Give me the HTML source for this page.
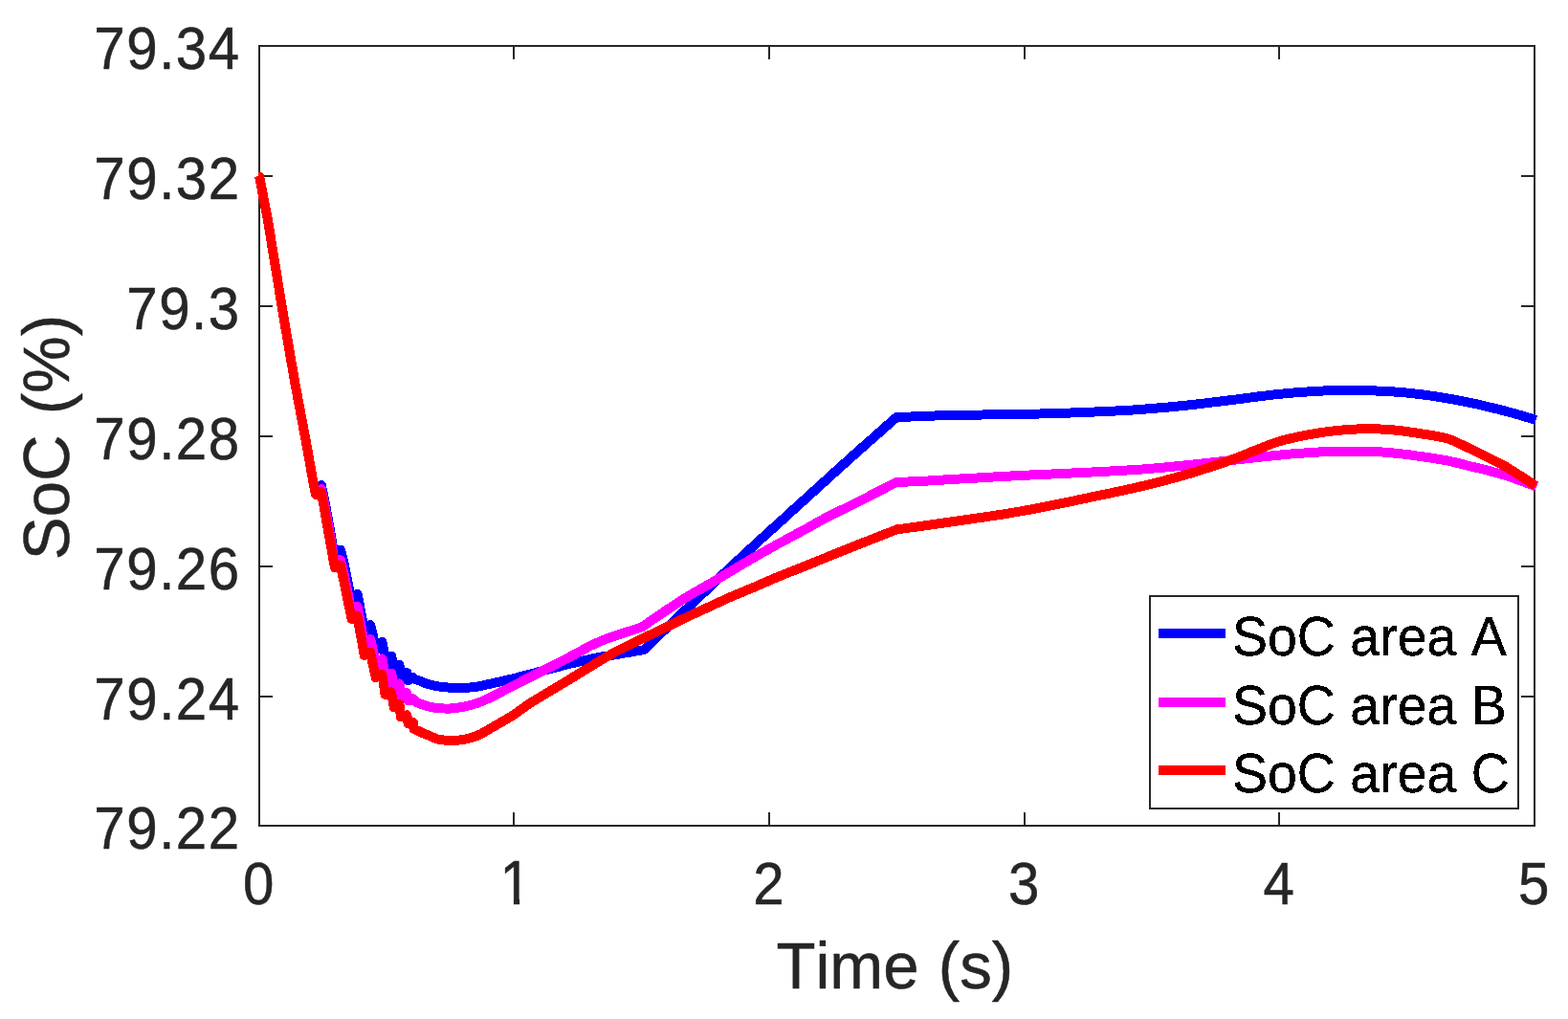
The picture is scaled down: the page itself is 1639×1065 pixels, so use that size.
<!DOCTYPE html>
<html lang="en"><head><meta charset="utf-8"><title>SoC (%) vs Time (s)</title>
<style>html,body{margin:0;padding:0;background:#fff}body{width:1639px;height:1065px;overflow:hidden}svg{display:block}text{font-family:"Liberation Sans",sans-serif;font-kerning:none;font-variant-ligatures:none}</style></head><body>
<svg width="1639" height="1065" viewBox="0 0 1639 1065">
<rect x="0" y="0" width="1639" height="1065" fill="#fff"/>
<g stroke="#262626" stroke-width="2" fill="none" shape-rendering="crispEdges">
<rect x="271" y="48" width="1333" height="815"/>
<line x1="537" y1="863" x2="537" y2="849"/>
<line x1="537" y1="48" x2="537" y2="62"/>
<line x1="804" y1="863" x2="804" y2="849"/>
<line x1="804" y1="48" x2="804" y2="62"/>
<line x1="1071" y1="863" x2="1071" y2="849"/>
<line x1="1071" y1="48" x2="1071" y2="62"/>
<line x1="1337" y1="863" x2="1337" y2="849"/>
<line x1="1337" y1="48" x2="1337" y2="62"/>
<line x1="271" y1="728" x2="285" y2="728"/>
<line x1="1604" y1="728" x2="1590" y2="728"/>
<line x1="271" y1="592" x2="285" y2="592"/>
<line x1="1604" y1="592" x2="1590" y2="592"/>
<line x1="271" y1="456" x2="285" y2="456"/>
<line x1="1604" y1="456" x2="1590" y2="456"/>
<line x1="271" y1="320" x2="285" y2="320"/>
<line x1="1604" y1="320" x2="1590" y2="320"/>
<line x1="271" y1="184" x2="285" y2="184"/>
<line x1="1604" y1="184" x2="1590" y2="184"/>
</g>
<g fill="#262626" stroke="#262626" stroke-width="0.5" stroke-linejoin="round" font-size="61px">
<text transform="translate(270.3 945) scale(0.955 1.04)" text-anchor="middle">0</text>
<clipPath id="c1"><rect x="500" y="880" width="80" height="58.4"/><rect x="536.9" y="880" width="6.2" height="80"/></clipPath>
<g clip-path="url(#c1)"><text transform="translate(538.8 945) scale(0.955 1.075)" text-anchor="middle">1</text></g>
<text transform="translate(803.5 945) scale(0.955 1.04)" text-anchor="middle">2</text>
<text transform="translate(1070.1 945) scale(0.955 1.04)" text-anchor="middle">3</text>
<text transform="translate(1336.7 945) scale(0.955 1.04)" text-anchor="middle">4</text>
<text transform="translate(1603.3 945) scale(0.955 1.04)" text-anchor="middle">5</text>
<text transform="translate(251.7 887.3) scale(0.955 1.04)" text-anchor="end" letter-spacing="1.6">79.22</text>
<text transform="translate(251.7 751.5) scale(0.955 1.04)" text-anchor="end" letter-spacing="1.6">79.24</text>
<text transform="translate(251.7 615.6) scale(0.955 1.04)" text-anchor="end" letter-spacing="1.6">79.26</text>
<text transform="translate(251.7 479.8) scale(0.955 1.04)" text-anchor="end" letter-spacing="1.6">79.28</text>
<text transform="translate(251.7 344.0) scale(0.955 1.04)" text-anchor="end" letter-spacing="1.6">79.3</text>
<text transform="translate(251.7 208.1) scale(0.955 1.04)" text-anchor="end" letter-spacing="1.6">79.32</text>
<text transform="translate(251.7 72.3) scale(0.955 1.04)" text-anchor="end" letter-spacing="1.6">79.34</text>
</g>
<g fill="#262626" stroke="#262626" stroke-width="0.5" stroke-linejoin="round" font-size="67.2px">
<text transform="translate(935.3 1033) scale(1 1.015)" text-anchor="middle" word-spacing="1.5">Time (s)</text>
<text transform="translate(72.3 457) rotate(-90) scale(1 1.03022)" text-anchor="middle" word-spacing="2.5">SoC (%)</text>
</g>
<g fill="none" stroke-width="10" stroke-linejoin="round" stroke-linecap="butt" shape-rendering="crispEdges">
<polyline stroke="#0000ff" points="271.0,184.0 280.0,230.0 286.4,270.0 297.1,335.0 308.3,400.0 320.5,465.0 326.7,500.0 330.0,515.2 335.8,507.0 338.2,517.4 340.5,529.6 342.9,542.5 345.3,556.1 347.6,570.0 350.0,584.2 356.0,574.7 357.9,582.0 359.9,590.6 361.8,599.8 363.7,609.3 365.7,619.2 367.6,629.2 373.5,621.0 374.7,626.3 375.9,632.6 377.1,639.2 378.4,646.2 379.6,653.3 380.8,660.6 387.0,653.0 388.0,656.4 388.9,660.4 389.9,664.7 390.9,669.1 391.8,673.6 392.8,678.3 399.5,671.0 400.0,673.7 400.5,676.8 401.1,680.2 401.6,683.7 402.1,687.3 402.6,690.9 409.0,685.5 409.5,687.5 409.9,689.9 410.4,692.5 410.9,695.1 411.3,697.8 411.8,700.6 417.5,695.0 417.8,696.7 418.0,698.6 418.2,700.7 418.5,702.9 418.8,705.2 419.0,707.5 425.3,703.1 425.5,704.2 425.7,705.5 425.9,706.8 426.1,708.2 426.3,709.7 426.5,711.1 432.0,708.2 434.0,710.0 439.0,711.7 444.0,713.9 448.9,715.4 453.9,716.6 458.9,717.5 463.9,718.2 468.9,718.6 473.8,718.8 478.8,718.8 483.8,718.8 488.8,718.7 493.8,718.3 498.7,717.6 503.7,716.6 508.7,715.5 513.7,714.4 518.6,713.3 523.6,712.2 528.6,711.0 533.6,709.9 538.6,708.7 543.5,707.4 548.5,706.1 553.5,704.8 558.5,703.5 563.5,702.1 568.4,700.8 573.4,699.5 578.4,698.2 583.4,696.9 588.4,695.6 593.3,694.4 598.3,693.1 603.3,692.0 608.3,690.8 613.2,689.7 618.2,688.6 623.2,687.5 628.2,686.6 633.2,685.8 638.1,685.1 643.1,684.3 648.1,683.4 653.1,682.5 658.1,681.7 663.0,680.8 668.0,680.0 673.0,679.2 678.0,674.4 683.0,669.6 688.0,664.8 692.9,660.0 697.9,655.3 702.9,650.5 707.9,645.7 712.9,641.0 717.9,636.2 722.8,631.5 727.8,626.7 732.8,622.0 737.8,617.3 742.8,612.6 747.8,607.8 752.8,603.1 757.7,598.4 762.7,593.7 767.7,589.1 772.7,584.4 777.7,579.8 782.7,575.2 787.7,570.6 792.6,566.0 797.6,561.5 802.6,557.0 807.6,552.4 812.6,547.9 817.6,543.4 822.5,538.9 827.5,534.4 832.5,529.8 837.5,525.3 842.5,520.8 847.5,516.2 852.5,511.7 857.4,507.2 862.4,502.7 867.4,498.1 872.4,493.6 877.4,489.1 882.4,484.6 887.4,480.2 892.3,475.7 897.3,471.3 902.3,466.8 907.3,462.4 912.3,458.0 917.3,453.6 922.2,449.2 927.2,444.8 932.2,440.4 937.2,436.0 942.2,435.8 947.2,435.7 952.2,435.5 957.1,435.3 962.1,435.1 967.1,434.9 972.1,434.7 977.1,434.5 982.1,434.2 987.1,434.1 992.1,434.0 997.0,433.9 1002.0,433.8 1007.0,433.7 1012.0,433.7 1017.0,433.6 1022.0,433.6 1027.0,433.5 1032.0,433.4 1036.9,433.4 1041.9,433.3 1046.9,433.2 1051.9,433.1 1056.9,433.1 1061.9,433.0 1066.9,432.9 1071.9,432.8 1076.8,432.7 1081.8,432.6 1086.8,432.5 1091.8,432.4 1096.8,432.3 1101.8,432.1 1106.8,431.9 1111.8,431.8 1116.7,431.6 1121.7,431.4 1126.7,431.3 1131.7,431.1 1136.7,430.9 1141.7,430.6 1146.7,430.4 1151.7,430.2 1156.6,430.0 1161.6,429.7 1166.6,429.5 1171.6,429.2 1176.6,428.9 1181.6,428.7 1186.6,428.3 1191.6,428.0 1196.5,427.6 1201.5,427.2 1206.5,426.8 1211.5,426.3 1216.5,425.9 1221.5,425.5 1226.5,425.0 1231.5,424.5 1236.4,424.0 1241.4,423.5 1246.4,423.0 1251.4,422.4 1256.4,421.8 1261.4,421.2 1266.4,420.6 1271.3,420.0 1276.3,419.4 1281.3,418.8 1286.3,418.2 1291.3,417.6 1296.3,416.9 1301.3,416.3 1306.3,415.6 1311.2,415.0 1316.2,414.3 1321.2,413.7 1326.2,413.1 1331.2,412.5 1336.2,412.0 1341.2,411.5 1346.2,411.1 1351.1,410.6 1356.1,410.2 1361.1,409.9 1366.1,409.5 1371.1,409.2 1376.1,408.9 1381.1,408.6 1386.1,408.4 1391.0,408.3 1396.0,408.1 1401.0,408.0 1406.0,408.0 1411.0,407.9 1416.0,407.9 1421.0,408.0 1426.0,408.1 1430.9,408.2 1435.9,408.4 1440.9,408.6 1445.9,408.8 1450.9,409.1 1455.9,409.4 1460.9,409.7 1465.9,410.1 1470.8,410.6 1475.8,411.1 1480.8,411.7 1485.8,412.3 1490.8,413.0 1495.8,413.6 1500.8,414.4 1505.8,415.2 1510.7,416.1 1515.7,416.9 1520.7,417.8 1525.7,418.8 1530.7,419.7 1535.7,420.7 1540.7,421.8 1545.7,422.8 1550.6,424.0 1555.6,425.2 1560.6,426.4 1565.6,427.6 1570.6,428.9 1575.6,430.2 1580.6,431.6 1585.6,433.0 1590.5,434.4 1595.5,435.9 1600.5,437.4 1605.5,439.0"/>
<polyline stroke="#ff00ff" points="271.0,184.0 280.0,230.0 286.4,270.0 297.1,335.0 308.3,400.0 320.5,465.0 326.7,500.0 330.0,516.2 335.8,511.0 338.2,521.6 340.5,534.0 342.9,547.3 345.3,561.1 347.6,575.3 350.0,589.9 356.0,585.2 357.9,592.6 359.9,601.3 361.8,610.6 363.7,620.2 365.7,630.2 367.6,640.4 373.5,634.0 374.7,639.4 375.9,645.7 377.1,652.5 378.4,659.5 379.6,666.7 380.8,674.1 387.0,668.0 388.0,671.5 388.9,675.6 389.9,679.9 390.9,684.5 391.8,689.2 392.8,694.0 399.5,688.5 400.0,691.2 400.5,694.4 401.1,697.7 401.6,701.2 402.1,704.9 402.6,708.6 409.0,703.5 409.5,705.6 409.9,708.0 410.4,710.6 410.9,713.3 411.3,716.1 411.8,719.0 417.5,714.5 417.8,716.2 418.0,718.3 418.2,720.4 418.5,722.7 418.8,725.0 419.0,727.4 425.3,724.1 425.5,725.2 425.7,726.5 425.9,727.9 426.1,729.4 426.3,730.9 426.5,732.4 432.0,730.3 434.0,733.2 439.0,735.6 444.1,737.3 449.1,738.6 454.2,739.6 459.2,740.3 464.3,740.5 469.3,740.6 474.3,740.2 479.4,739.6 484.4,738.7 489.5,737.5 494.5,736.2 499.6,734.6 504.6,732.7 509.6,730.4 514.7,727.9 519.7,725.4 524.8,722.8 529.8,720.2 534.9,717.6 539.9,715.0 544.9,712.4 550.0,709.8 555.0,707.3 560.1,704.7 565.1,702.2 570.1,699.6 575.2,697.1 580.2,694.6 585.3,692.0 590.3,689.4 595.4,686.7 600.4,684.0 605.4,681.3 610.5,678.5 615.5,675.9 620.6,673.4 625.6,671.1 630.7,669.0 635.7,667.0 640.7,665.2 645.8,663.6 650.8,662.0 655.9,660.3 660.9,658.7 666.0,657.0 671.0,655.4 676.0,651.9 681.0,648.4 686.0,645.0 691.1,641.5 696.1,638.1 701.1,634.8 706.1,631.5 711.1,628.3 716.1,625.1 721.1,622.0 726.1,619.0 731.2,616.2 736.2,613.4 741.2,610.5 746.2,607.6 751.2,604.6 756.2,601.6 761.2,598.6 766.3,595.6 771.3,592.6 776.3,589.6 781.3,586.7 786.3,583.8 791.3,580.9 796.3,578.0 801.3,575.2 806.4,572.4 811.4,569.5 816.4,566.8 821.4,564.1 826.4,561.4 831.4,558.7 836.4,556.0 841.4,553.3 846.5,550.5 851.5,547.6 856.5,544.8 861.5,542.1 866.5,539.5 871.5,537.0 876.5,534.5 881.6,532.1 886.6,529.7 891.6,527.2 896.6,524.7 901.6,522.2 906.6,519.6 911.6,517.0 916.6,514.5 921.7,511.9 926.7,509.3 931.7,506.6 936.7,504.0 941.7,503.8 946.7,503.6 951.7,503.4 956.7,503.2 961.7,502.9 966.7,502.7 971.7,502.4 976.7,502.1 981.7,501.8 986.6,501.5 991.6,501.2 996.6,500.9 1001.6,500.6 1006.6,500.3 1011.6,500.1 1016.6,499.8 1021.6,499.5 1026.6,499.2 1031.6,498.9 1036.6,498.6 1041.6,498.3 1046.6,498.0 1051.6,497.8 1056.6,497.5 1061.6,497.3 1066.6,497.0 1071.6,496.8 1076.6,496.5 1081.5,496.3 1086.5,496.1 1091.5,495.8 1096.5,495.6 1101.5,495.4 1106.5,495.1 1111.5,494.9 1116.5,494.7 1121.5,494.4 1126.5,494.2 1131.5,493.9 1136.5,493.7 1141.5,493.5 1146.5,493.2 1151.5,493.0 1156.5,492.7 1161.5,492.4 1166.5,492.2 1171.5,491.9 1176.4,491.6 1181.4,491.3 1186.4,491.0 1191.4,490.7 1196.4,490.3 1201.4,489.9 1206.4,489.5 1211.4,489.1 1216.4,488.6 1221.4,488.1 1226.4,487.6 1231.4,487.1 1236.4,486.6 1241.4,486.1 1246.4,485.6 1251.4,485.1 1256.4,484.5 1261.4,484.0 1266.4,483.4 1271.3,482.8 1276.3,482.3 1281.3,481.7 1286.3,481.2 1291.3,480.6 1296.3,480.0 1301.3,479.5 1306.3,478.9 1311.3,478.3 1316.3,477.8 1321.3,477.2 1326.3,476.7 1331.3,476.2 1336.3,475.7 1341.3,475.2 1346.3,474.8 1351.3,474.3 1356.3,473.9 1361.3,473.6 1366.3,473.3 1371.2,472.9 1376.2,472.6 1381.2,472.4 1386.2,472.2 1391.2,472.1 1396.2,472.0 1401.2,471.9 1406.2,471.8 1411.2,471.8 1416.2,471.8 1421.2,471.8 1426.2,471.9 1431.2,472.0 1436.2,472.1 1441.2,472.3 1446.2,472.6 1451.2,473.0 1456.2,473.5 1461.2,474.0 1466.1,474.5 1471.1,475.1 1476.1,475.7 1481.1,476.5 1486.1,477.2 1491.1,477.9 1496.1,478.6 1501.1,479.4 1506.1,480.2 1511.1,481.1 1516.1,482.1 1521.1,483.3 1526.1,484.5 1531.1,485.8 1536.1,487.1 1541.1,488.3 1546.1,489.5 1551.1,490.7 1556.1,492.0 1561.0,493.3 1566.0,494.6 1571.0,496.1 1576.0,497.6 1581.0,499.3 1586.0,501.1 1591.0,502.9 1596.0,504.8 1601.0,506.7 1606.0,508.8"/>
<polyline stroke="#ff0000" points="271.0,184.0 280.0,230.0 286.4,270.0 297.1,335.0 308.3,400.0 320.5,465.0 326.7,500.0 330.0,517.0 335.8,514.0 338.2,527.2 340.5,540.5 342.9,553.8 345.3,567.0 347.6,580.2 350.0,593.5 356.0,590.7 357.9,600.1 359.9,609.5 361.8,618.9 363.7,628.2 365.7,637.6 367.6,647.0 373.5,644.0 374.7,650.8 375.9,657.7 377.1,664.5 378.4,671.3 379.6,678.2 380.8,685.0 387.0,681.5 388.0,686.0 388.9,690.4 389.9,694.9 390.9,699.3 391.8,703.8 392.8,708.2 399.5,705.0 400.0,708.5 400.5,712.0 401.1,715.5 401.6,718.9 402.1,722.4 402.6,725.9 409.0,723.3 409.5,726.0 409.9,728.6 410.4,731.3 410.9,734.0 411.3,736.6 411.8,739.3 417.5,736.3 417.8,738.5 418.0,740.7 418.2,742.9 418.5,745.1 418.8,747.3 419.0,749.5 425.3,747.3 425.5,748.8 425.7,750.2 425.9,751.6 426.1,753.1 426.3,754.5 426.5,756.0 432.0,755.0 432.1,756.1 432.2,757.3 432.2,758.4 432.3,759.5 432.4,760.7 432.5,761.8 437.5,764.0 442.7,766.5 447.7,768.5 452.7,770.7 457.7,772.6 462.7,773.4 467.7,773.8 472.7,773.9 477.7,773.7 482.7,773.3 487.7,772.3 492.7,771.0 497.7,769.3 502.7,767.1 507.7,764.3 512.7,761.3 517.7,758.4 522.7,755.6 527.7,752.6 532.7,749.7 537.7,746.6 542.7,743.1 547.7,739.4 552.7,735.9 557.7,732.7 562.7,729.7 567.6,726.8 572.6,723.8 577.6,720.8 582.6,717.8 587.6,714.7 592.6,711.7 597.6,708.7 602.6,705.6 607.6,702.6 612.6,699.6 617.6,696.5 622.6,693.4 627.6,690.4 632.6,687.4 637.6,684.5 642.6,681.8 647.6,679.2 652.6,676.6 657.6,674.1 662.6,671.7 667.6,669.2 672.6,666.9 677.6,664.5 682.6,662.2 687.6,659.8 692.6,657.3 697.6,654.9 702.6,652.4 707.6,649.9 712.6,647.5 717.6,645.1 722.6,642.8 727.6,640.5 732.6,638.2 737.6,635.9 742.6,633.6 747.6,631.3 752.6,629.0 757.6,626.7 762.6,624.4 767.6,622.3 772.6,620.1 777.6,618.1 782.6,616.0 787.6,613.9 792.6,611.8 797.6,609.6 802.6,607.5 807.6,605.3 812.6,603.2 817.5,601.1 822.5,599.1 827.5,597.1 832.5,595.2 837.5,593.2 842.5,591.2 847.5,589.2 852.5,587.1 857.5,585.1 862.5,583.1 867.5,581.0 872.5,579.0 877.5,577.0 882.5,575.0 887.5,573.0 892.5,571.0 897.5,569.0 902.5,567.0 907.5,565.1 912.5,563.1 917.5,561.2 922.5,559.2 927.5,557.3 932.5,555.3 937.5,553.4 942.5,552.7 947.5,552.0 952.5,551.3 957.5,550.6 962.5,549.9 967.5,549.2 972.5,548.5 977.5,547.8 982.6,547.1 987.6,546.4 992.6,545.6 997.6,544.9 1002.6,544.2 1007.6,543.5 1012.6,542.8 1017.6,542.0 1022.6,541.3 1027.6,540.6 1032.6,539.9 1037.6,539.1 1042.6,538.3 1047.6,537.6 1052.6,536.8 1057.6,535.9 1062.7,535.1 1067.7,534.2 1072.7,533.3 1077.7,532.4 1082.7,531.4 1087.7,530.5 1092.7,529.5 1097.7,528.5 1102.7,527.5 1107.7,526.4 1112.7,525.4 1117.7,524.4 1122.7,523.4 1127.7,522.3 1132.7,521.3 1137.7,520.2 1142.7,519.1 1147.8,518.1 1152.8,517.0 1157.8,516.0 1162.8,514.9 1167.8,513.9 1172.8,512.8 1177.8,511.7 1182.8,510.6 1187.8,509.5 1192.8,508.3 1197.8,507.1 1202.8,505.9 1207.8,504.6 1212.8,503.4 1217.8,502.1 1222.8,500.7 1227.8,499.4 1232.9,498.0 1237.9,496.6 1242.9,495.1 1247.9,493.6 1252.9,492.0 1257.9,490.4 1262.9,488.8 1267.9,487.2 1272.9,485.6 1277.9,483.9 1282.9,482.1 1287.9,480.3 1292.9,478.4 1297.9,476.4 1302.9,474.4 1307.9,472.3 1313.0,470.4 1318.0,468.4 1323.0,466.3 1328.0,464.4 1333.0,462.6 1338.0,461.1 1343.0,459.7 1348.0,458.5 1353.0,457.3 1358.0,456.3 1363.0,455.3 1368.0,454.3 1373.0,453.4 1378.0,452.6 1383.0,451.8 1388.0,451.1 1393.0,450.5 1398.1,450.0 1403.1,449.5 1408.1,449.1 1413.1,448.8 1418.1,448.5 1423.1,448.3 1428.1,448.2 1433.1,448.2 1438.1,448.4 1443.1,448.5 1448.1,448.8 1453.1,449.1 1458.1,449.6 1463.1,450.1 1468.1,450.7 1473.1,451.4 1478.2,452.2 1483.2,453.0 1488.2,453.8 1493.2,454.5 1498.2,455.3 1503.2,456.2 1508.2,457.2 1513.2,458.4 1518.2,460.2 1523.3,462.6 1528.4,465.0 1533.6,467.5 1538.7,469.9 1543.8,472.4 1548.9,474.9 1554.0,477.4 1559.1,479.9 1564.3,482.5 1569.4,485.2 1574.5,488.1 1579.6,491.2 1584.7,494.4 1589.8,497.6 1595.0,500.9 1600.1,504.3 1605.2,507.8"/>
<path d="M270,184.4 L270,180 L273.6,180 L276,182.6 L276.4,186 Z" fill="#ff0000"/>
</g>
<rect x="1202" y="623" width="385" height="222" fill="#fff" stroke="#262626" stroke-width="2" shape-rendering="crispEdges"/>
<g stroke-width="10" shape-rendering="crispEdges">
<line x1="1211" y1="662" x2="1281" y2="662" stroke="#0000ff"/>
<line x1="1211" y1="734" x2="1281" y2="734" stroke="#ff00ff"/>
<line x1="1211" y1="805" x2="1281" y2="805" stroke="#ff0000"/>
</g>
<filter id="alias" filterUnits="userSpaceOnUse" x="1280" y="625" width="305" height="218" color-interpolation-filters="sRGB"><feComponentTransfer><feFuncA type="discrete" tableValues="0 1"/></feComponentTransfer></filter>
<g fill="#000" stroke="#000" stroke-width="0.3" stroke-linejoin="round" font-size="55.5px" filter="url(#alias)">
<text transform="translate(1288 684.6) scale(1 1.02)">SoC area A</text>
<text transform="translate(1288 756.6) scale(1 1.02)">SoC area B</text>
<text transform="translate(1288 827.6) scale(1 1.02)">SoC area C</text>
</g>
</svg></body></html>
